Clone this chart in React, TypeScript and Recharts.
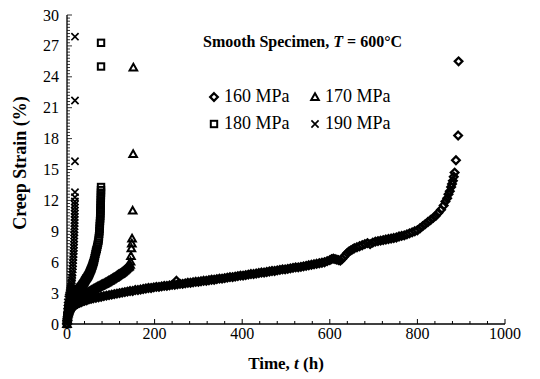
import { ScatterChart, Scatter, XAxis, YAxis } from "recharts";

// creep strain (%) vs time (h)
const mpa160: [number, number][] = [
  [0, 0], [0.5, 0.3], [1, 0.5], [2, 0.7], [3, 0.9], [4, 1.0], [6, 1.2], [8, 1.35],
  [10, 1.5], [13, 1.6], [16, 1.75], [20, 1.85], [24, 1.95], [28, 2.05], [32, 2.1],
  [36, 2.2], [40, 2.25], [45, 2.3], [50, 2.4], [55, 2.45], [60, 2.5], [66, 2.55],
  [72, 2.6], [78, 2.65], [84, 2.7], [90, 2.75], [96, 2.8], [102, 2.85], [108, 2.9],
  [114, 2.95], [120, 3.0], [126, 3.05], [132, 3.1], [138, 3.15], [144, 3.2],
  [150, 3.2], [156, 3.3], [162, 3.3], [168, 3.35], [174, 3.4], [180, 3.45],
  [186, 3.5], [192, 3.5], [198, 3.55], [204, 3.6], [210, 3.6], [216, 3.65],
  [222, 3.7], [228, 3.7], [234, 3.75], [240, 3.8], [246, 3.8], [250, 4.2],
  [252, 3.85], [258, 3.9], [264, 3.9], [270, 3.95], [276, 4.0], [282, 4.0],
  [288, 4.05], [294, 4.1], [300, 4.1], [306, 4.15], [312, 4.2], [318, 4.2],
  [324, 4.25], [330, 4.3], [336, 4.3], [342, 4.35], [348, 4.4], [354, 4.4],
  [360, 4.45], [366, 4.5], [372, 4.55], [378, 4.55], [384, 4.6], [390, 4.65],
  [396, 4.7], [402, 4.7], [408, 4.75], [414, 4.8], [420, 4.85], [426, 4.85],
  [432, 4.9], [438, 4.95], [444, 5.0], [450, 5.0], [456, 5.05], [462, 5.1],
  [468, 5.15], [474, 5.15], [480, 5.2], [486, 5.25], [492, 5.3], [498, 5.3],
  [504, 5.35], [510, 5.4], [516, 5.45], [522, 5.5], [528, 5.5], [534, 5.55],
  [540, 5.6], [546, 5.65], [552, 5.7], [558, 5.75], [564, 5.8], [570, 5.85],
  [576, 5.9], [582, 5.95], [588, 6.0], [594, 6.1], [600, 6.2], [604, 6.3],
  [608, 6.35], [612, 6.3], [616, 6.25], [620, 6.2], [624, 6.15], [628, 6.3],
  [632, 6.5], [636, 6.7], [640, 6.9], [644, 7.05], [648, 7.15], [652, 7.25],
  [656, 7.35], [662, 7.45], [668, 7.55], [674, 7.65], [680, 7.75], [686, 7.85],
  [692, 7.75], [698, 7.9], [704, 8.0], [710, 8.05], [716, 8.1], [722, 8.15],
  [728, 8.2], [734, 8.25], [740, 8.3], [746, 8.35], [752, 8.4], [758, 8.5],
  [764, 8.55], [770, 8.6], [776, 8.7], [782, 8.8], [788, 8.9], [794, 9.0],
  [800, 9.1], [806, 9.3], [812, 9.5], [818, 9.7], [824, 9.9], [830, 10.1],
  [836, 10.3], [842, 10.5], [848, 10.8], [854, 11.1], [860, 11.5], [864, 11.9],
  [868, 12.2], [871, 12.6], [874, 12.9], [877, 13.3], [879, 13.6], [881, 13.9],
  [883, 14.3], [885, 14.7], [888, 15.9], [893, 18.3], [894, 25.5],
];

const mpa170: [number, number][] = [
  [0, 0], [0.5, 0.4], [1, 0.7], [2, 1.0], [3, 1.2], [4, 1.4], [5, 1.5], [6, 1.6],
  [7, 1.7], [8, 1.8], [10, 1.9], [11.5, 1.98], [13, 2.05], [14.5, 2.12], [16, 2.2],
  [17.5, 2.25], [19, 2.3], [20.5, 2.35], [22, 2.4], [23.5, 2.45], [25, 2.5],
  [26.5, 2.55], [28, 2.6], [29.5, 2.62], [31, 2.65], [32.5, 2.7], [34, 2.75],
  [35.5, 2.78], [37, 2.8], [38.5, 2.85], [40, 2.9], [41.5, 2.92], [43, 2.95],
  [44.5, 2.98], [46, 3.0], [47.5, 3.05], [49, 3.1], [50.5, 3.12], [52, 3.15],
  [53.5, 3.2], [55, 3.25], [56.5, 3.28], [58, 3.3], [59.5, 3.35], [61, 3.4],
  [62.5, 3.42], [64, 3.45], [65.5, 3.48], [67, 3.5], [68.5, 3.55], [70, 3.6],
  [71.5, 3.62], [73, 3.65], [74.5, 3.68], [76, 3.7], [77.5, 3.75], [79, 3.8],
  [80.5, 3.82], [82, 3.85], [83.5, 3.88], [85, 3.9], [86.5, 3.95], [88, 4.0],
  [89.5, 4.02], [91, 4.05], [92.5, 4.1], [94, 4.15], [95.5, 4.18], [97, 4.2],
  [98.5, 4.25], [100, 4.3], [101.5, 4.32], [103, 4.35], [104.5, 4.4], [106, 4.45],
  [107.5, 4.48], [109, 4.5], [110.5, 4.55], [112, 4.6], [113.5, 4.65], [115, 4.7],
  [116.5, 4.75], [118, 4.8], [119.5, 4.82], [121, 4.85], [122.5, 4.9], [124, 4.95],
  [125.5, 5.0], [127, 5.05], [128.5, 5.1], [130, 5.15], [131.5, 5.2], [133, 5.25],
  [134.5, 5.32], [136, 5.4], [137.5, 5.45], [139, 5.5], [140.5, 5.55], [142, 5.6],
  [144, 5.75], [145, 6.05], [146, 6.6], [147, 7.35], [148, 7.8], [148.5, 8.3],
  [150, 11.0], [151, 16.5], [151.5, 24.9],
];

const mpa180: [number, number][] = [
  [0, 0], [0.5, 0.5], [1, 0.8], [2, 1.2], [3, 1.5], [4, 1.7], [5, 1.9], [6, 2.0],
  [7, 2.12], [8, 2.25], [9, 2.35], [10, 2.45], [11, 2.52], [12, 2.6], [13, 2.65],
  [14, 2.7], [15, 2.75], [16, 2.8], [17, 2.85], [18, 2.9], [19, 2.95], [20, 3.0],
  [21, 3.05], [22, 3.1], [23, 3.15], [24, 3.2], [25, 3.25], [26, 3.3], [27, 3.35],
  [28, 3.4], [29, 3.45], [30, 3.5], [31, 3.55], [32, 3.6], [33, 3.65], [34, 3.7],
  [35, 3.78], [36, 3.85], [37, 3.9], [38, 3.95], [39, 4.02], [40, 4.1], [41, 4.18],
  [42, 4.25], [43, 4.32], [44, 4.4], [45, 4.45], [46, 4.5], [47, 4.58], [48, 4.65],
  [49, 4.72], [50, 4.8], [51, 4.9], [52, 5.0], [53, 5.1], [54, 5.2], [55, 5.3],
  [56, 5.4], [57, 5.52], [58, 5.65], [59, 5.78], [60, 5.9], [61, 6.05], [62, 6.2],
  [63, 6.4], [64, 6.6], [65, 6.8], [66, 7.0], [67, 7.15], [68, 7.3], [69, 7.5],
  [70, 7.7], [71, 7.9], [72, 8.1], [72.5, 8.3], [73, 8.5], [73.5, 8.75], [74, 9.0],
  [74.4, 9.25], [74.8, 9.5], [75.1, 9.75], [75.4, 10.0], [75.7, 10.25], [76, 10.5],
  [76.2, 10.75], [76.4, 11.0], [76.6, 11.25], [76.8, 11.5], [77, 11.75],
  [77.1, 12.0], [77.3, 12.25], [77.4, 12.5], [77.5, 12.75], [77.6, 13.0],
  [77.7, 13.3], [77.7, 25.0], [77.7, 27.3],
];

const mpa190: [number, number][] = [
  [0, 0], [0.2, 0.4], [0.4, 0.8], [0.7, 1.2], [1, 1.5], [1.5, 1.8], [2, 2.1],
  [3, 2.4], [4, 2.6], [5, 2.8], [6, 3.0], [7, 3.2], [8, 3.4], [9, 3.6], [10, 3.8],
  [10.5, 4.0], [11, 4.25], [11.5, 4.5], [12, 4.75], [12.5, 5.0], [13, 5.3],
  [13.4, 5.6], [13.8, 5.9], [14.2, 6.2], [14.6, 6.5], [15, 6.8], [15.3, 7.1],
  [15.6, 7.4], [15.9, 7.7], [16.2, 8.0], [16.4, 8.3], [16.6, 8.6], [16.8, 8.9],
  [17, 9.2], [17.1, 9.5], [17.3, 9.8], [17.4, 10.1], [17.5, 10.4], [17.6, 10.7],
  [17.7, 11.0], [17.8, 11.3], [17.9, 11.6], [18, 11.9], [18.1, 12.3],
  [18.2, 12.8], [18.2, 15.8], [18.2, 21.7], [18.2, 27.9],
];

const xLabels = [0, 200, 400, 600, 800, 1000];
const yLabels = [0, 3, 6, 9, 12, 15, 18, 21, 24, 27, 30];

const xTicks = Array.from({ length: 26 }, (_, i) => i * 40);
const yTicks = Array.from({ length: 101 }, (_, i) => (i * 3) / 10);

const FONT = "Liberation Serif, Times New Roman, serif";

const toPts = (rows: [number, number][]) => rows.map(([t, strain]) => ({ t, strain }));

const Diamond = ({ cx, cy }: any) => (
  <path
    d={`M${cx},${cy - 3.8}L${cx + 3.8},${cy}L${cx},${cy + 3.8}L${cx - 3.8},${cy}Z`}
    fill="none"
    stroke="#000"
    strokeWidth={2.3}
  />
);
const Triangle = ({ cx, cy }: any) => (
  <path
    d={`M${cx},${cy - 3.8}L${cx + 3.8},${cy + 2.9}L${cx - 3.8},${cy + 2.9}Z`}
    fill="none"
    stroke="#000"
    strokeWidth={2}
  />
);
const Square = ({ cx, cy }: any) => (
  <rect x={cx - 3.2} y={cy - 3.2} width={6.4} height={6.4} fill="none" stroke="#000" strokeWidth={2} />
);
const Cross = ({ cx, cy }: any) => (
  <path
    d={`M${cx - 3.6},${cy - 3.6}L${cx + 3.6},${cy + 3.6}M${cx + 3.6},${cy - 3.6}L${cx - 3.6},${cy + 3.6}`}
    stroke="#000"
    strokeWidth={1.7}
  />
);

const XTick = ({ x, y, payload }: any) => {
  const v = payload.value;
  const major = xLabels.includes(v);
  return (
    <g>
      <line x1={x} x2={x} y1={y} y2={y - (major ? 5 : 3)} stroke="#000" strokeWidth={1} />
      {major && (
        <text x={x} y={y + 15} textAnchor="middle" fontFamily={FONT} fontSize={16} fill="#000">
          {v}
        </text>
      )}
    </g>
  );
};

const YTick = ({ x, y, payload }: any) => {
  const v = Math.round(payload.value * 10) / 10;
  const major = yLabels.includes(v);
  return (
    <g>
      <line x1={x} x2={x + (major ? 5 : 3)} y1={y} y2={y} stroke="#000" strokeWidth={0.8} />
      {major && (
        <text x={x - 8} y={y + 5.5} textAnchor="end" fontFamily={FONT} fontSize={16} fill="#000">
          {v}
        </text>
      )}
    </g>
  );
};

const legendItems = [
  { label: "160 MPa", Shape: Diamond, left: 208, top: 86 },
  { label: "170 MPa", Shape: Triangle, left: 309, top: 86 },
  { label: "180 MPa", Shape: Square, left: 208, top: 113 },
  { label: "190 MPa", Shape: Cross, left: 309, top: 113 },
];

export default function App() {
  return (
    <div style={{ position: "absolute", left: 0, top: 0, width: 540, height: 379, background: "#fff" }}>
      <ScatterChart width={540} height={379} margin={{ top: 15, right: 35, bottom: 0, left: 0 }}>
        <XAxis
          type="number"
          dataKey="t"
          domain={[0, 1000]}
          ticks={xTicks}
          interval={0}
          tick={<XTick />}
          tickSize={0}
          tickMargin={0}
          height={55}
          axisLine={{ stroke: "#000", strokeWidth: 1.3 }}
          tickLine={false}
        />
        <XAxis
          xAxisId="top"
          orientation="top"
          type="number"
          domain={[0, 1]}
          height={0}
          tick={false}
          tickLine={false}
          axisLine={{ stroke: "#333", strokeWidth: 1.3 }}
        />
        <YAxis
          type="number"
          dataKey="strain"
          domain={[0, 30]}
          ticks={yTicks}
          interval={0}
          tick={<YTick />}
          tickSize={0}
          tickMargin={0}
          width={67}
          axisLine={{ stroke: "#000", strokeWidth: 1.3 }}
          tickLine={false}
        />
        <YAxis
          yAxisId="right"
          orientation="right"
          type="number"
          domain={[0, 1]}
          width={0}
          tick={false}
          tickLine={false}
          axisLine={{ stroke: "#333", strokeWidth: 1.3 }}
        />
        <Scatter data={toPts(mpa160)} shape={Diamond} isAnimationActive={false} />
        <Scatter data={toPts(mpa170)} shape={Triangle} isAnimationActive={false} />
        <Scatter data={toPts(mpa180)} shape={Square} isAnimationActive={false} />
        <Scatter data={toPts(mpa190)} shape={Cross} isAnimationActive={false} />
      </ScatterChart>

      <div
        style={{
          position: "absolute",
          left: 203,
          top: 33,
          fontFamily: FONT,
          fontWeight: "bold",
          fontSize: 16,
          whiteSpace: "nowrap",
        }}
      >
        Smooth Specimen, <i>T</i> = 600°C
      </div>

      {legendItems.map(({ label, Shape, left, top }) => (
        <div
          key={label}
          style={{
            position: "absolute",
            left,
            top,
            display: "flex",
            alignItems: "center",
            fontFamily: FONT,
            fontSize: 18,
            whiteSpace: "nowrap",
          }}
        >
          <svg width={12} height={12} style={{ marginRight: 4 }}>
            <Shape cx={6} cy={6} />
          </svg>
          {label}
        </div>
      ))}

      <div
        style={{
          position: "absolute",
          left: 0,
          width: 540 - 35 + 67,
          top: 354,
          textAlign: "center",
          fontFamily: FONT,
          fontWeight: "bold",
          fontSize: 17,
        }}
      >
        Time, <i>t</i> (h)
      </div>

      <div
        style={{
          position: "absolute",
          left: 20,
          top: 163,
          transform: "translate(-50%, -50%) rotate(-90deg)",
          fontFamily: FONT,
          fontWeight: "bold",
          fontSize: 18,
          whiteSpace: "nowrap",
        }}
      >
        Creep Strain (%)
      </div>
    </div>
  );
}
